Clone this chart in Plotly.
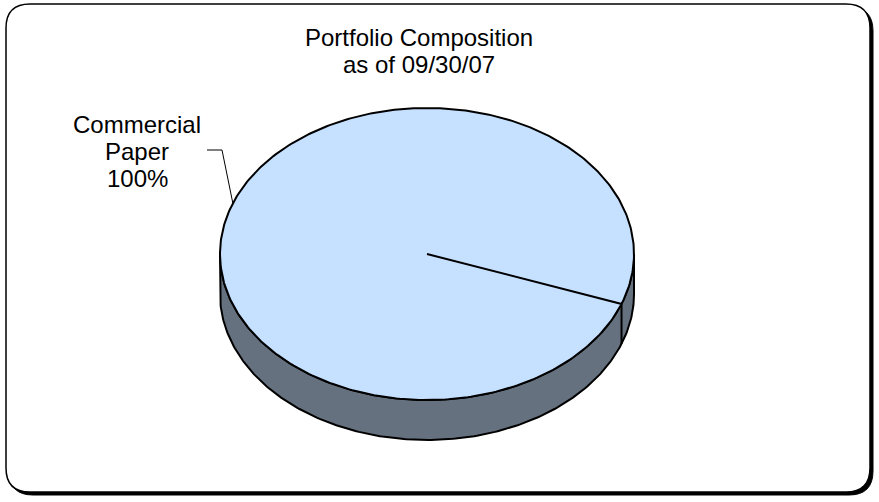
import numpy as np
import plotly.graph_objects as go

# ---- data ----
categories = ["Commercial Paper"]
values = [100]
title_lines = ["Portfolio Composition", "as of 09/30/07"]

# ---- geometry / style ----
W, H = 879, 502
cx, cy, rx, ry, depth = 427, 254, 207, 146, 40
start_deg = 20
top_color = "#C6E0FF"
side_color = "#66717F"
font_family = "Arial, Liberation Sans, sans-serif"
line_gap = 27

fig = go.Figure()

# side wall (front visible half)
t = np.linspace(0, np.pi, 240)
xs = cx + rx * np.cos(t)
ys = cy + ry * np.sin(t)
side_x = np.concatenate([xs, xs[::-1], xs[:1]])
side_y = np.concatenate([ys, ys[::-1] + depth, ys[:1]])
fig.add_trace(go.Scatter(x=side_x, y=side_y, mode="lines", fill="toself",
                         fillcolor=side_color, line=dict(color="black", width=2),
                         hoverinfo="skip", showlegend=False))

total = sum(values)
ang = start_deg
edges = []
for cat, v in zip(categories, values):
    sweep = 360.0 * v / total
    tt = np.radians(np.linspace(ang, ang + sweep, 400))
    px = np.concatenate([[cx], cx + rx * np.cos(tt), [cx]])
    py = np.concatenate([[cy], cy + ry * np.sin(tt), [cy]])
    fig.add_trace(go.Scatter(x=px, y=py, mode="lines", fill="toself",
                             fillcolor=top_color, line=dict(color="black", width=2),
                             hoverinfo="skip", showlegend=False, name=cat))
    edges.append(ang)
    ang += sweep

# vertical edges at slice boundaries visible in front
for a in edges:
    r = np.radians(a)
    if np.sin(r) > 0:
        ex = cx + rx * np.cos(r)
        ey = cy + ry * np.sin(r)
        fig.add_trace(go.Scatter(x=[ex, ex], y=[ey, ey + depth], mode="lines",
                                 line=dict(color="black", width=2),
                                 hoverinfo="skip", showlegend=False))

# label
pct = 100.0 * values[0] / total
label_lines = categories[0].split() + [f"{pct:.0f}%"]
for i, txt in enumerate(label_lines):
    fig.add_annotation(x=137, y=124 + i * line_gap, text=txt, showarrow=False,
                       xref="x", yref="y",
                       font=dict(family=font_family, size=24, color="black"),
                       xanchor="center", yanchor="middle")
fig.add_shape(type="path", path="M 207 150 L 222 150 L 233 204", xref="x", yref="y",
              line=dict(color="black", width=1))

# title
for i, txt in enumerate(title_lines):
    fig.add_annotation(x=419, y=37 + i * line_gap, text=txt, showarrow=False,
                       xref="x", yref="y",
                       font=dict(family=font_family, size=24, color="black"),
                       xanchor="center", yanchor="middle")


def rrect(x0, y0, x1, y1, r):
    return (f"M {x0+r} {y0} L {x1-r} {y0} Q {x1} {y0} {x1} {y0+r} "
            f"L {x1} {y1-r} Q {x1} {y1} {x1-r} {y1} L {x0+r} {y1} "
            f"Q {x0} {y1} {x0} {y1-r} L {x0} {y0+r} Q {x0} {y0} {x0+r} {y0} Z")

# border with shadow
fig.add_shape(type="path", path=rrect(9, 7, 873, 495, 24), xref="x", yref="y",
              fillcolor="black", line=dict(color="black", width=1), layer="below")
fig.add_shape(type="path", path=rrect(6, 4, 870, 492, 24), xref="x", yref="y",
              fillcolor="white", line=dict(color="black", width=1.5), layer="below")

fig.update_layout(
    width=W, height=H, margin=dict(l=0, r=0, t=0, b=0),
    paper_bgcolor="white", plot_bgcolor="rgba(0,0,0,0)",
    xaxis=dict(range=[0, W], visible=False, fixedrange=True),
    yaxis=dict(range=[H, 0], visible=False, fixedrange=True),
    showlegend=False,
)

fig.write_html("out.html")
